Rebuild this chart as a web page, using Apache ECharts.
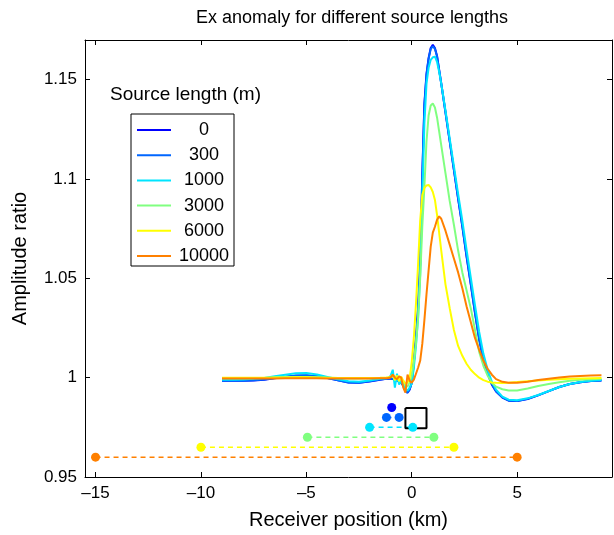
<!DOCTYPE html>
<html>
<head>
<meta charset="utf-8">
<script src="https://cdn.jsdelivr.net/npm/echarts@6/dist/echarts.min.js"></script>
<style>
  html, body { margin: 0; padding: 0; background: #fff; }
  #chart { width: 614px; height: 535px; }
</style>
</head>
<body>
<div id="chart"></div>
<script>
// receiver positions (km)
var xKm = [-9,-8.5,-8,-7.5,-7,-6.5,-6,-5.5,-5,-4.5,-4,-3.5,-3,-2.5,-2,-1.5,
  -1.2,-1.1,-1,-0.9,-0.8,-0.7,-0.6,-0.5,-0.4,-0.3,-0.2,-0.1,0,0.1,0.2,0.3,0.4,0.5,0.6,0.7,0.8,0.9,1,1.1,1.2,1.3,1.4,
  1.6,1.8,2,2.2,2.4,2.6,2.8,3,3.2,3.4,3.6,3.8,4,
  4.3,4.6,5,5.5,6,6.5,7,7.5,8,8.5,9];

var ratio0 = [0.9985,0.9985,0.9985,0.9986,0.9990,0.9997,1.0004,1.0010,1.0011,1.0006,0.9998,0.9987,0.9976,0.9974,0.9981,0.9990,
  0.9994,0.9995,0.9996,0.9993,0.9990,0.9985,0.9982,0.9975,0.9960,0.9935,0.9924,0.9940,0.9975,1.0080,1.0200,1.0350,1.0580,1.1020,1.1380,1.1530,1.1610,1.1660,1.1676,1.1660,1.1620,1.1550,1.1480,
  1.1335,1.1190,1.1045,1.0900,1.0760,1.0610,1.0470,1.0325,1.0190,1.0090,1.0020,0.9965,0.9930,
  0.9900,0.9884,0.9882,0.9893,0.9911,0.9932,0.9953,0.9968,0.9977,0.9983,0.9986];

var ratio300 = [0.9985,0.9985,0.9985,0.9987,0.9991,0.9998,1.0005,1.0011,1.0012,1.0007,0.9998,0.9987,0.9976,0.9975,0.9982,0.9991,
  0.9994,0.9996,0.9998,0.9994,0.9988,0.9986,0.9980,0.9976,0.9958,0.9933,0.9925,0.9942,0.9972,1.0075,1.0195,1.0345,1.0575,1.1010,1.1370,1.1525,1.1605,1.1655,1.1668,1.1655,1.1618,1.1550,1.1482,
  1.1338,1.1193,1.1048,1.0904,1.0764,1.0615,1.0474,1.0330,1.0195,1.0094,1.0023,0.9967,0.9932,
  0.9901,0.9885,0.9883,0.9894,0.9912,0.9932,0.9953,0.9968,0.9977,0.9983,0.9986];

var ratio1000 = [0.9990,0.9990,0.9991,0.9994,0.9999,1.0007,1.0015,1.0022,1.0023,1.0016,1.0004,0.9992,0.9982,0.9980,0.9986,0.9994,
  0.9997,0.9999,1.0010,1.0040,0.9950,1.0020,0.9965,0.9990,0.9960,0.9945,0.9935,0.9950,0.9970,1.0050,1.0160,1.0300,1.0520,1.0900,1.1280,1.1480,1.1560,1.1600,1.1613,1.1616,1.1590,1.1540,1.1480,
  1.1345,1.1205,1.1065,1.0925,1.0790,1.0645,1.0505,1.0365,1.0230,1.0120,1.0040,0.9980,0.9940,
  0.9905,0.9889,0.9886,0.9896,0.9913,0.9933,0.9953,0.9968,0.9978,0.9984,0.9988];

var ratio3000 = [0.9997,0.9997,0.9997,0.9998,0.9999,1.0001,1.0003,1.0004,1.0004,1.0002,1.0000,0.9998,0.9996,0.9996,0.9997,0.9999,
  1.0000,1.0001,1.0005,1.0015,0.9985,1.0010,0.9980,1.0000,0.9975,0.9960,0.9955,0.9975,1.0010,1.0080,1.0170,1.0300,1.0500,1.0760,1.0960,1.1190,1.1320,1.1370,1.1380,1.1360,1.1310,1.1240,1.1170,
  1.1030,1.0890,1.0770,1.0640,1.0530,1.0440,1.0350,1.0240,1.0130,1.0060,1.0010,0.9975,0.9955,
  0.9942,0.9935,0.9936,0.9946,0.9958,0.9968,0.9977,0.9984,0.9989,0.9992,0.9995];

var ratio6000 = [1.0000,1.0000,1.0000,1.0000,1.0000,1.0001,1.0001,1.0002,1.0002,1.0001,1.0000,0.9999,0.9998,0.9998,0.9999,1.0000,
  1.0001,1.0002,1.0005,1.0012,0.9990,1.0010,0.9985,1.0005,0.9985,0.9970,0.9975,0.9995,1.0080,1.0200,1.0370,1.0570,1.0790,1.0920,1.0955,1.0968,1.0970,1.0958,1.0935,1.0895,1.0820,1.0730,1.0640,
  1.0470,1.0350,1.0240,1.0160,1.0110,1.0070,1.0040,1.0018,1.0000,0.9988,0.9980,0.9976,0.9974,
  0.9973,0.9975,0.9978,0.9982,0.9986,0.9989,0.9992,0.9994,0.9996,0.9997,0.9998];

var ratio10000 = [0.9996,0.9996,0.9996,0.9996,0.9996,0.9996,0.9997,0.9997,0.9997,0.9997,0.9996,0.9996,0.9996,0.9996,0.9996,0.9997,
  0.9997,0.9998,1.0002,1.0015,1.0000,0.9992,1.0007,1.0000,0.9950,0.9925,1.0015,0.9985,0.9975,0.9990,1.0020,1.0050,1.0085,1.0170,1.0290,1.0420,1.0540,1.0660,1.0730,1.0760,1.0795,1.0812,1.0800,
  1.0740,1.0670,1.0600,1.0530,1.0450,1.0360,1.0280,1.0200,1.0140,1.0085,1.0045,1.0015,0.9993,
  0.9979,0.9974,0.9974,0.9980,0.9988,0.9995,1.0001,1.0006,1.0009,1.0011,1.0012];

var sourceLengths = ['0', '300', '1000', '3000', '6000', '10000'];
var ratios = [ratio0, ratio300, ratio1000, ratio3000, ratio6000, ratio10000];
var colors = ['#0000ff', '#0066ff', '#00e5ff', '#80ff80', '#ffff00', '#ff8000'];

// source extent markers below the curves
var sourceEnds = [[-0.95], [-1.2, -0.6], [-2, 0.05], [-4.95, 1.05], [-10, 2], [-15, 5]];
var sourceRows = [0.985, 0.98, 0.975, 0.97, 0.965, 0.96];

// target outline
var targetX = [-0.3, 0.7, 0.7, -0.3, -0.3];
var targetY = [0.9847, 0.9847, 0.9746, 0.9746, 0.9847];

var xTicks = [-15, -10, -5, 0, 5];
var yTicks = [0.95, 1, 1.05, 1.1, 1.15];

var font = '"Liberation Sans", Arial, Helvetica, sans-serif';

var series = [];
sourceLengths.forEach(function (name, i) {
  series.push({
    name: name,
    type: 'line',
    data: xKm.map(function (x, j) { return [x, ratios[i][j]]; }),
    showSymbol: false,
    symbol: 'none',
    color: colors[i],
    lineStyle: { color: colors[i], width: 2 },
    z: 3 + i
  });
});
sourceLengths.forEach(function (name, i) {
  series.push({
    name: 'src' + name,
    type: 'line',
    data: sourceEnds[i].map(function (x) { return [x, sourceRows[i]]; }),
    symbol: 'circle',
    symbolSize: 9,
    showSymbol: true,
    color: colors[i],
    itemStyle: { color: colors[i] },
    lineStyle: { color: colors[i], width: 1.5, type: [5, 4] },
    z: 2
  });
});
series.push({
  name: 'target',
  type: 'line',
  data: targetX.map(function (x, j) { return [x, targetY[j]]; }),
  symbol: 'none',
  lineStyle: { color: '#000', width: 2 },
  z: 2
});

var axisLine = { show: true, onZero: false, lineStyle: { color: '#000', width: 1 } };
var tickStyle = { color: '#000', width: 1 };

var option = {
  animation: false,
  backgroundColor: '#fff',
  grid: { left: 85, right: 2, top: 40, bottom: 57.5 },
  graphic: [
    { type: 'text', x: 352, y: 18,
      style: { text: 'Ex anomaly for different source lengths', font: '18px ' + font, fill: '#000',
               textAlign: 'center', textVerticalAlign: 'middle' } },
    { type: 'text', x: 110, y: 95,
      style: { text: 'Source length (m)', font: '19px ' + font, fill: '#000',
               textAlign: 'left', textVerticalAlign: 'middle' } }
  ],
  legend: {
    data: sourceLengths,
    orient: 'vertical',
    left: 131,
    top: 114,
    backgroundColor: '#fff',
    borderColor: '#000',
    borderWidth: 1,
    borderRadius: 0,
    padding: [7, 2, 1, 6],
    itemWidth: 34,
    itemHeight: 2,
    itemGap: 7.2,
    icon: 'rect',
    selectedMode: false,
    formatter: function (n) { return '{n|' + n + '}'; },
    textStyle: {
      rich: { n: { width: 56, align: 'center', fontSize: 18, lineHeight: 20, color: '#000', fontFamily: font } }
    }
  },
  xAxis: [{
    type: 'value', min: -15.5, max: 9.5, position: 'bottom',
    name: 'Receiver position (km)', nameLocation: 'middle', nameGap: 33,
    nameTextStyle: { color: '#000', fontSize: 20, fontFamily: font },
    axisLine: axisLine,
    axisTick: { show: true, inside: true, length: 5, customValues: xTicks, lineStyle: tickStyle },
    axisLabel: { customValues: xTicks, color: '#000', fontSize: 17, fontFamily: font, margin: 8,
      formatter: function (v) { return v < 0 ? '\u2013' + Math.abs(v) : String(v); } },
    splitLine: { show: false }
  }, {
    type: 'value', min: -15.5, max: 9.5, position: 'top',
    axisLine: axisLine,
    axisTick: { show: true, inside: true, length: 5, customValues: xTicks, lineStyle: tickStyle },
    axisLabel: { show: false },
    splitLine: { show: false }
  }],
  yAxis: [{
    type: 'value', min: 0.95, max: 1.17, position: 'left',
    name: 'Amplitude ratio', nameLocation: 'middle', nameGap: 55,
    nameTextStyle: { color: '#000', fontSize: 20, fontFamily: font },
    axisLine: axisLine,
    axisTick: { show: true, inside: true, length: 5, customValues: yTicks, lineStyle: tickStyle },
    axisLabel: { customValues: yTicks, color: '#000', fontSize: 17, fontFamily: font, margin: 8,
      formatter: function (v) { return String(+v.toFixed(2)); } },
    splitLine: { show: false }
  }, {
    type: 'value', min: 0.95, max: 1.17, position: 'right',
    axisLine: axisLine,
    axisTick: { show: true, inside: true, length: 5, customValues: yTicks, lineStyle: tickStyle },
    axisLabel: { show: false },
    splitLine: { show: false }
  }],
  series: series
};

var myChart = echarts.init(document.getElementById('chart'));
myChart.setOption(option);
</script>
</body>
</html>
